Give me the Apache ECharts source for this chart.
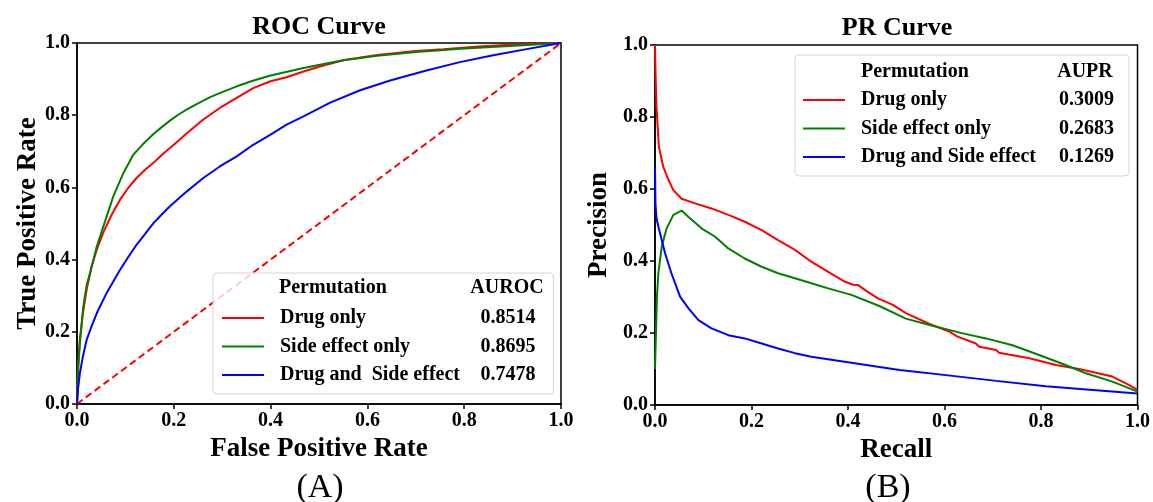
<!DOCTYPE html>
<html>
<head>
<meta charset="utf-8">
<script src="https://cdn.jsdelivr.net/npm/echarts@6/dist/echarts.min.js"></script>
<style>
  html, body { margin: 0; padding: 0; background: #fff; }
  #main { width: 1153px; height: 502px; }
</style>
</head>
<body>
<div id="main"></div>
<script>
// [x, y] points
const rocDrugOnly = [[0,0],[0.002,0.10],[0.006,0.18],[0.012,0.25],[0.02,0.317],[0.03,0.38],[0.041,0.428],[0.054,0.474],[0.07,0.52],[0.089,0.566],[0.105,0.597],[0.123,0.626],[0.14,0.648],[0.158,0.668],[0.175,0.69],[0.192,0.709],[0.21,0.73],[0.227,0.75],[0.245,0.77],[0.261,0.788],[0.295,0.82],[0.33,0.848],[0.364,0.875],[0.40,0.894],[0.433,0.905],[0.468,0.921],[0.502,0.935],[0.55,0.952],[0.62,0.967],[0.70,0.978],[0.757,0.983],[0.83,0.99],[0.894,0.995],[1,1]];
const rocSideOnly = [[0,0],[0.002,0.086],[0.006,0.17],[0.013,0.27],[0.02,0.33],[0.027,0.363],[0.041,0.437],[0.054,0.49],[0.075,0.575],[0.096,0.64],[0.116,0.69],[0.135,0.718],[0.158,0.748],[0.175,0.767],[0.192,0.785],[0.21,0.802],[0.227,0.816],[0.25,0.833],[0.275,0.85],[0.30,0.864],[0.33,0.88],[0.365,0.896],[0.40,0.91],[0.468,0.931],[0.502,0.94],[0.55,0.952],[0.62,0.965],[0.70,0.975],[0.80,0.985],[0.894,0.992],[1,1]];
const rocDrugSide = [[0,0],[0.002,0.04],[0.006,0.086],[0.012,0.13],[0.02,0.178],[0.03,0.215],[0.041,0.252],[0.061,0.307],[0.089,0.372],[0.105,0.405],[0.123,0.441],[0.14,0.47],[0.158,0.501],[0.175,0.525],[0.192,0.548],[0.227,0.589],[0.261,0.626],[0.295,0.658],[0.33,0.686],[0.364,0.718],[0.40,0.746],[0.433,0.774],[0.468,0.797],[0.502,0.82],[0.523,0.835],[0.585,0.869],[0.647,0.896],[0.722,0.924],[0.791,0.947],[0.86,0.966],[0.929,0.983],[1,1]];
const rocChance = [[0,0],[1,1]];

const prDrugOnly = [[0,1.0],[0.001,0.93],[0.003,0.83],[0.008,0.718],[0.017,0.662],[0.028,0.625],[0.038,0.597],[0.055,0.573],[0.083,0.56],[0.117,0.546],[0.152,0.528],[0.186,0.509],[0.221,0.486],[0.255,0.458],[0.29,0.431],[0.324,0.398],[0.359,0.37],[0.393,0.343],[0.41,0.334],[0.421,0.333],[0.44,0.315],[0.462,0.296],[0.493,0.278],[0.52,0.255],[0.569,0.225],[0.61,0.204],[0.627,0.19],[0.665,0.171],[0.672,0.162],[0.707,0.153],[0.713,0.145],[0.776,0.13],[0.831,0.111],[0.879,0.1],[0.948,0.079],[0.982,0.056],[1,0.042]];
const prSideOnly = [[0,0.1],[0.002,0.2],[0.004,0.3],[0.007,0.366],[0.014,0.44],[0.024,0.49],[0.038,0.528],[0.055,0.54],[0.069,0.523],[0.097,0.49],[0.124,0.468],[0.152,0.435],[0.186,0.407],[0.221,0.384],[0.255,0.366],[0.29,0.352],[0.324,0.338],[0.359,0.324],[0.407,0.306],[0.465,0.275],[0.52,0.24],[0.569,0.222],[0.638,0.199],[0.686,0.185],[0.741,0.166],[0.796,0.139],[0.851,0.111],[0.893,0.088],[0.948,0.065],[1,0.037]];
const prDrugSide = [[0,0.66],[0.001,0.56],[0.003,0.52],[0.007,0.495],[0.021,0.421],[0.034,0.366],[0.052,0.301],[0.069,0.269],[0.09,0.236],[0.117,0.213],[0.152,0.194],[0.186,0.185],[0.221,0.171],[0.255,0.157],[0.29,0.144],[0.324,0.134],[0.393,0.12],[0.462,0.106],[0.507,0.097],[0.603,0.083],[0.707,0.067],[0.81,0.052],[0.914,0.041],[1,0.032]];

const rocNames = ['Drug only', 'Side effect only', 'Drug and  Side effect'];
const prNames = ['Drug only', 'Side effect only', 'Drug and Side effect'];
const aurocValues = ['0.8514', '0.8695', '0.7478'];
const auprValues = ['0.3009', '0.2683', '0.1269'];
const tickValues = [0, 0.2, 0.4, 0.6, 0.8, 1.0];
const colors = ['#ff0000', '#008000', '#0000ff'];

const FONT = '"Liberation Serif", "Times New Roman", serif';

function makeAxis(idx, name, gap) {
    return {
        type: 'value',
        gridIndex: idx,
        min: tickValues[0],
        max: tickValues[tickValues.length - 1],
        interval: 0.2,
        name: name,
        nameLocation: 'middle',
        nameGap: gap,
        nameTextStyle: {fontFamily: FONT, fontWeight: 'bold', fontSize: 27, color: '#000'},
        splitLine: {show: false},
        axisLine: {show: true, onZero: false, lineStyle: {color: '#000', width: 1.5}},
        axisTick: {show: true, length: 5, lineStyle: {color: '#000', width: 1.5}},
        axisLabel: {
            fontFamily: FONT, fontWeight: 'bold', fontSize: 20, color: '#000',
            margin: 7,
            formatter: v => v.toFixed(1)
        }
    };
}

function makeLegend(names, values, left, top, nameWidth, valueWidth, padL, padR) {
    return {
        data: names,
        orient: 'vertical',
        left: left,
        top: top,
        icon: 'rect',
        itemWidth: 42,
        itemHeight: 2,
        itemGap: 8.5,
        selectedMode: false,
        padding: [35, padR, 9, padL],
        backgroundColor: 'rgba(255,255,255,0.8)',
        borderColor: '#d4d4d4',
        borderWidth: 1,
        borderRadius: 4,
        formatter: name => '{n|' + name + '}{v|' + values[names.indexOf(name)] + '}',
        textStyle: {
            rich: {
                n: {fontFamily: FONT, fontWeight: 'bold', fontSize: 20, color: '#000',
                    width: nameWidth, lineHeight: 20, padding: [0, 0, 0, 11]},
                v: {fontFamily: FONT, fontWeight: 'bold', fontSize: 20, color: '#000',
                    width: valueWidth, lineHeight: 20, align: 'center'}
            }
        }
    };
}

function lineSeries(name, data, color, xi) {
    return {
        name: name, type: 'line', xAxisIndex: xi, yAxisIndex: xi,
        data: data, showSymbol: false, symbol: 'none',
        lineStyle: {color: color, width: 2}, itemStyle: {color: color},
        z: 3
    };
}

function label(text, x, y, size, weight, align) {
    return {
        type: 'text', x: x, y: y, z: 10,
        style: {
            text: text, fill: '#000',
            font: weight + ' ' + size + 'px ' + FONT,
            textAlign: align || 'center', align: align || 'center',
            textVerticalAlign: 'middle', verticalAlign: 'middle'
        }
    };
}

const chart = echarts.init(document.getElementById('main'));
chart.setOption({
    animation: false,
    backgroundColor: '#fff',
    grid: [
        {left: 77, top: 43, width: 484, height: 361, show: true, borderColor: '#000', borderWidth: 1.5, backgroundColor: 'transparent'},
        {left: 655, top: 45, width: 483, height: 360, show: true, borderColor: '#000', borderWidth: 1.5, backgroundColor: 'transparent'}
    ],
    xAxis: [
        makeAxis(0, 'False Positive Rate', 30),
        makeAxis(1, 'Recall', 30)
    ],
    yAxis: [
        makeAxis(0, 'True Positive Rate', 35),
        makeAxis(1, 'Precision', 42)
    ],
    legend: [
        makeLegend(rocNames, aurocValues, 213, 273, 201, 54, 9, 18),
        makeLegend(prNames, auprValues, 795, 55, 198, 55, 8, 15)
    ],
    graphic: [
        label('ROC Curve', 319, 27, 26, 'bold'),
        label('PR Curve', 897, 28, 26, 'bold'),
        label('(A)', 320, 488, 34, 'normal'),
        label('(B)', 888, 488, 34, 'normal'),
        label('Permutation', 279, 288, 20, 'bold', 'left'),
        label('AUROC', 507, 288, 20, 'bold'),
        label('Permutation', 861, 72, 20, 'bold', 'left'),
        label('AUPR', 1085, 72, 20, 'bold')
    ],
    series: [
        lineSeries(rocNames[0], rocDrugOnly, colors[0], 0),
        lineSeries(rocNames[1], rocSideOnly, colors[1], 0),
        lineSeries(rocNames[2], rocDrugSide, colors[2], 0),
        {
            name: 'Chance', type: 'line', xAxisIndex: 0, yAxisIndex: 0,
            data: rocChance, showSymbol: false, symbol: 'none',
            lineStyle: {color: '#ff0000', width: 2, type: [7, 4]}, z: 2
        },
        lineSeries(prNames[0], prDrugOnly, colors[0], 1),
        lineSeries(prNames[1], prSideOnly, colors[1], 1),
        lineSeries(prNames[2], prDrugSide, colors[2], 1)
    ]
});
</script>
</body>
</html>
